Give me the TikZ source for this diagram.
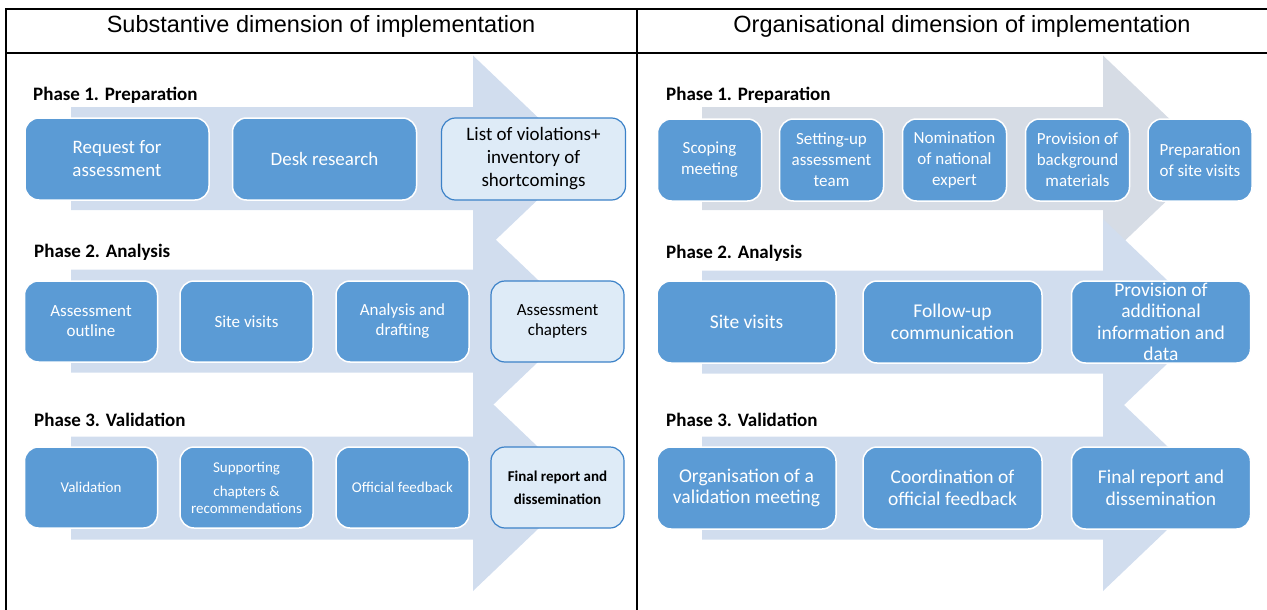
\documentclass[tikz,border=0pt]{standalone}
\usepackage{fontspec}
\setmainfont{Liberation Sans}
\newfontfamily\calfont{Carlito}
\definecolor{boxblue}{RGB}{91,155,213}
\definecolor{lightbox}{RGB}{222,235,247}
\definecolor{lboxline}{RGB}{60,130,200}
\definecolor{arrowblue}{RGB}{209,221,238}
\definecolor{arrowgray}{RGB}{214,220,229}
\newcommand{\phasearrow}[4]{%
  \fill[#1] (#2,#4-51.5) -- (#3,#4-51.5) -- (#3,#4-103) -- (#3+108,#4)
    -- (#3,#4+103) -- (#3,#4+51.5) -- (#2,#4+51.5) -- cycle;}
\tikzset{
  stepbox/.style={draw=white, line width=1.5pt, fill=boxblue, rounded corners=14pt,
    text=white, align=center, inner sep=0pt},
  lightstep/.style={stepbox, draw=lboxline, line width=1.2pt, fill=lightbox, text=black},
  tableline/.style={line width=2pt, black},
  title/.style={font=\fontsize{23.5}{28}\selectfont, anchor=base},
  phase/.style={font=\calfont\bfseries\fontsize{19}{23}\selectfont, anchor=base west, inner sep=0pt},
  fa/.style={font=\calfont\fontsize{19}{23}\selectfont},
  fb/.style={font=\calfont\fontsize{17}{20}\selectfont},
  fc/.style={font=\calfont\fontsize{15}{17}\selectfont},
  fd/.style={font=\calfont\bfseries\fontsize{15}{23}\selectfont},
  fe/.style={font=\calfont\fontsize{17}{21}\selectfont},
  ff/.style={font=\calfont\fontsize{19.5}{21.5}\selectfont},
  w1/.style={minimum width=184pt, minimum height=82pt},
  w2/.style={minimum width=133pt, minimum height=81pt},
  w3/.style={minimum width=104pt, minimum height=82pt},
  w4/.style={minimum width=179pt, minimum height=82pt},
}
\begin{document}
\begin{tikzpicture}[x=1pt, y=-1pt]
\useasboundingbox (0,0) rectangle (1267,610);
% table
\coordinate (tl) at (6,9);
\coordinate (tr) at (1267,9);
\coordinate (bl) at (6,610);
\coordinate (hl) at (6,53);
\coordinate (hr) at (1267,53);
\coordinate (mt) at (637,9);
\coordinate (mb) at (637,610);
\draw[tableline] (bl) -- (tl) -- (tr);
\draw[tableline] (hl) -- (hr);
\draw[tableline] (mt) -- (mb);
\node[title] (t1) at (321,33) {Substantive dimension of implementation};
\node[title] (t2) at (962,33) {Organisational dimension of implementation};
% arrows left
\phasearrow{arrowblue}{71}{473}{158.5}
\phasearrow{arrowblue}{71}{473}{321}
\phasearrow{arrowblue}{71}{473}{488}
% arrows right
\phasearrow{arrowgray}{702}{1103}{158.5}
\phasearrow{arrowblue}{702}{1103}{322}
\phasearrow{arrowblue}{702}{1103}{488}
% phase labels
\node[phase] (lp1) at (33,100) {Phase 1. Preparation};
\node[phase] (lp2) at (34,257) {Phase 2. Analysis};
\node[phase] (lp3) at (34,426) {Phase 3. Validation};
\node[phase] (rp1) at (666,100) {Phase 1. Preparation};
\node[phase] (rp2) at (666,258) {Phase 2. Analysis};
\node[phase] (rp3) at (666,426) {Phase 3. Validation};
% left phase 1
\node[stepbox, w1, fa] (l11) at (117,159) {Request for\\assessment};
\node[stepbox, w1, fa] (l12) at (324.5,159) {Desk research};
\node[lightstep, w1, fa] (l13) at (533.5,159) {List of violations+\\inventory of\\shortcomings};
% left phase 2
\node[stepbox, w2, fb] (l21) at (91,321.5) {Assessment\\outline};
\node[stepbox, w2, fb] (l22) at (246.5,321.5) {Site visits};
\node[stepbox, w2, fb] (l23) at (402.5,321.5) {Analysis and\\drafting};
\node[lightstep, w2, fb] (l24) at (557.5,321.5) {Assessment\\chapters};
% left phase 3
\node[stepbox, w2, fc] (l31) at (91,487.5) {Validation};
\node[stepbox, w2, fc] (l32) at (246.5,487.5) {Supporting\\[7pt] chapters \&\\recommendations};
\node[stepbox, w2, fc] (l33) at (402.5,487.5) {Official feedback};
\node[lightstep, w2, fd] (l34) at (557.5,487.5) {Final report and\\dissemination};
% right phase 1
\node[stepbox, w3, fe] (r11) at (709.5,160) {Scoping\\meeting};
\node[stepbox, w3, fe] (r12) at (831.5,160) {Setting-up\\assessment\\team};
\node[stepbox, w3, fe] (r13) at (954.5,160) {Nomination\\of national\\expert};
\node[stepbox, w3, fe] (r14) at (1077.5,160) {Provision of\\background\\materials};
\node[stepbox, w3, fe] (r15) at (1200,160) {Preparation\\of site visits};
% right phase 2
\node[stepbox, w4, ff] (r21) at (746.5,322) {Site visits};
\node[stepbox, w4, ff] (r22) at (952.5,322) {Follow-up\\communication};
\node[stepbox, w4, ff] (r23) at (1161,322) {Provision of\\additional\\information and\\data};
% right phase 3
\node[stepbox, w4, ff] (r31) at (746.5,488) {Organisation of a\\validation meeting};
\node[stepbox, w4, ff] (r32) at (952.5,488) {Coordination of\\official feedback};
\node[stepbox, w4, ff] (r33) at (1161,488) {Final report and\\dissemination};
\end{tikzpicture}
\end{document}
